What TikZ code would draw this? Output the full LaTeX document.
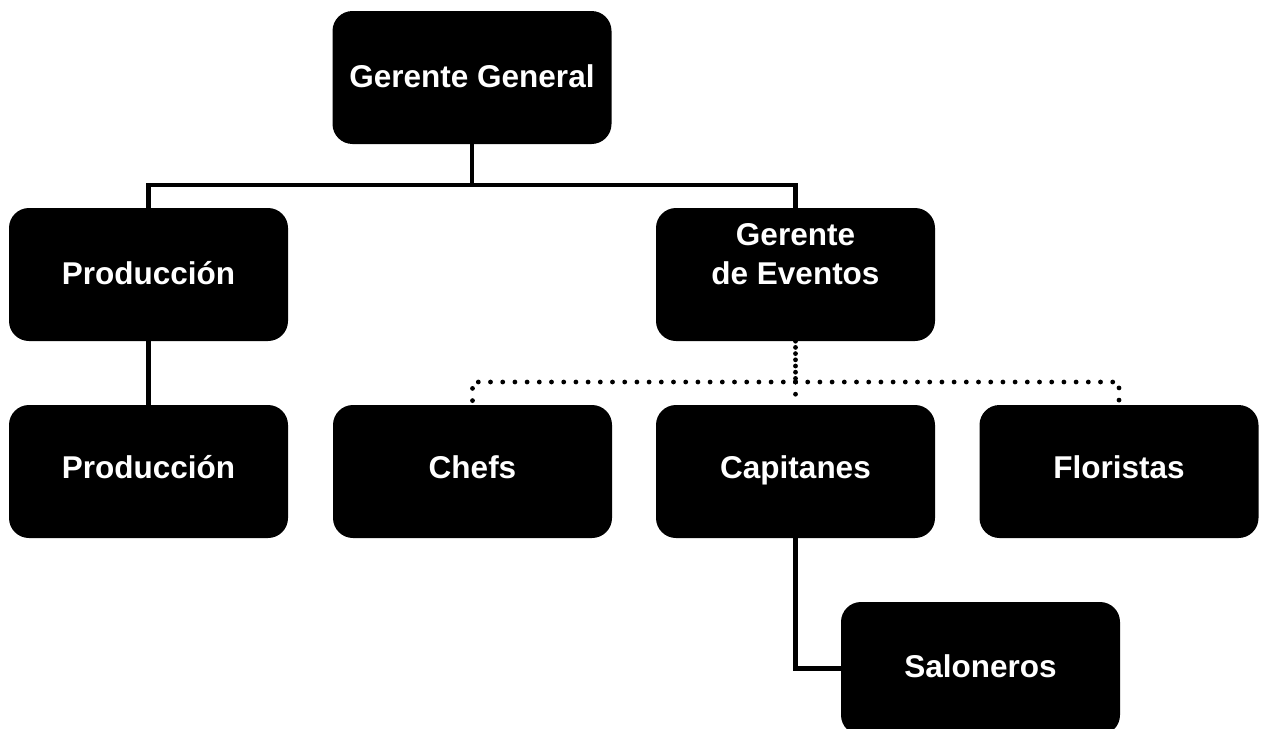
\documentclass[tikz,border=0pt]{standalone}
\usepackage{fontspec}
\setmainfont{Liberation Sans}
\begin{document}
\begin{tikzpicture}[x=1pt,y=-1pt,
  orgbox/.style={draw=none,fill=black,rounded corners=20pt,minimum width=279pt,minimum height=133pt,inner sep=0pt},
  lbl/.style={text=white,font=\fontsize{31.5}{39}\selectfont\bfseries,inner sep=0pt,anchor=base},
  solidline/.style={line width=4.5pt},
  dotline/.style={line width=4.8pt,line cap=round,dash pattern=on 0pt off 12.2pt},
  densedot/.style={line width=4.8pt,line cap=round,dash pattern=on 0pt off 6.2pt}]
\useasboundingbox (0,0) rectangle (1265,728);
\clip (0,0) rectangle (1265,728);
\fill[white] (0,0) rectangle (1265,728);
% boxes
\node[orgbox] (gg) at (472,77.5) {};
\node[orgbox] (prod1) at (148.5,274.5) {};
\node[orgbox] (gde) at (795.5,274.5) {};
\node[orgbox] (prod2) at (148.5,471.5) {};
\node[orgbox] (chefs) at (472.5,471.5) {};
\node[orgbox] (cap) at (795.5,471.5) {};
\node[orgbox] (flor) at (1119,471.5) {};
\node[orgbox] (sal) at (980.5,668.5) {};
% labels
\node[lbl] (tgg) at (472,87) {Gerente General};
\node[lbl] (tprod1) at (148.5,284) {Producción};
\node[lbl] (tgde1) at (795.5,245) {Gerente};
\node[lbl] (tgde2) at (795.5,284) {de Eventos};
\node[lbl] (tprod2) at (148.5,478) {Producción};
\node[lbl] (tchefs) at (472.5,478) {Chefs};
\node[lbl] (tcap) at (795.5,478) {Capitanes};
\node[lbl] (tflor) at (1119,478) {Floristas};
\node[lbl] (tsal) at (980.5,677) {Saloneros};
% solid connectors
\coordinate (j1) at (472,185);
\draw[solidline] (gg.south) -- (j1);
\draw[solidline] (j1) -| (prod1.north);
\draw[solidline] (j1) -| (gde.north);
\draw[solidline] (prod1.south) -- (prod2.north);
\draw[solidline] (cap.south) |- (sal.west);
% dotted connectors
\coordinate (j2) at (795.5,382);
\draw[densedot] (gde.south) -- (j2);
\draw[dotline] (j2) -| (chefs.north);
\draw[dotline] (j2) -- (cap.north);
\draw[dotline] (j2) -| (flor.north);
\end{tikzpicture}
\end{document}
